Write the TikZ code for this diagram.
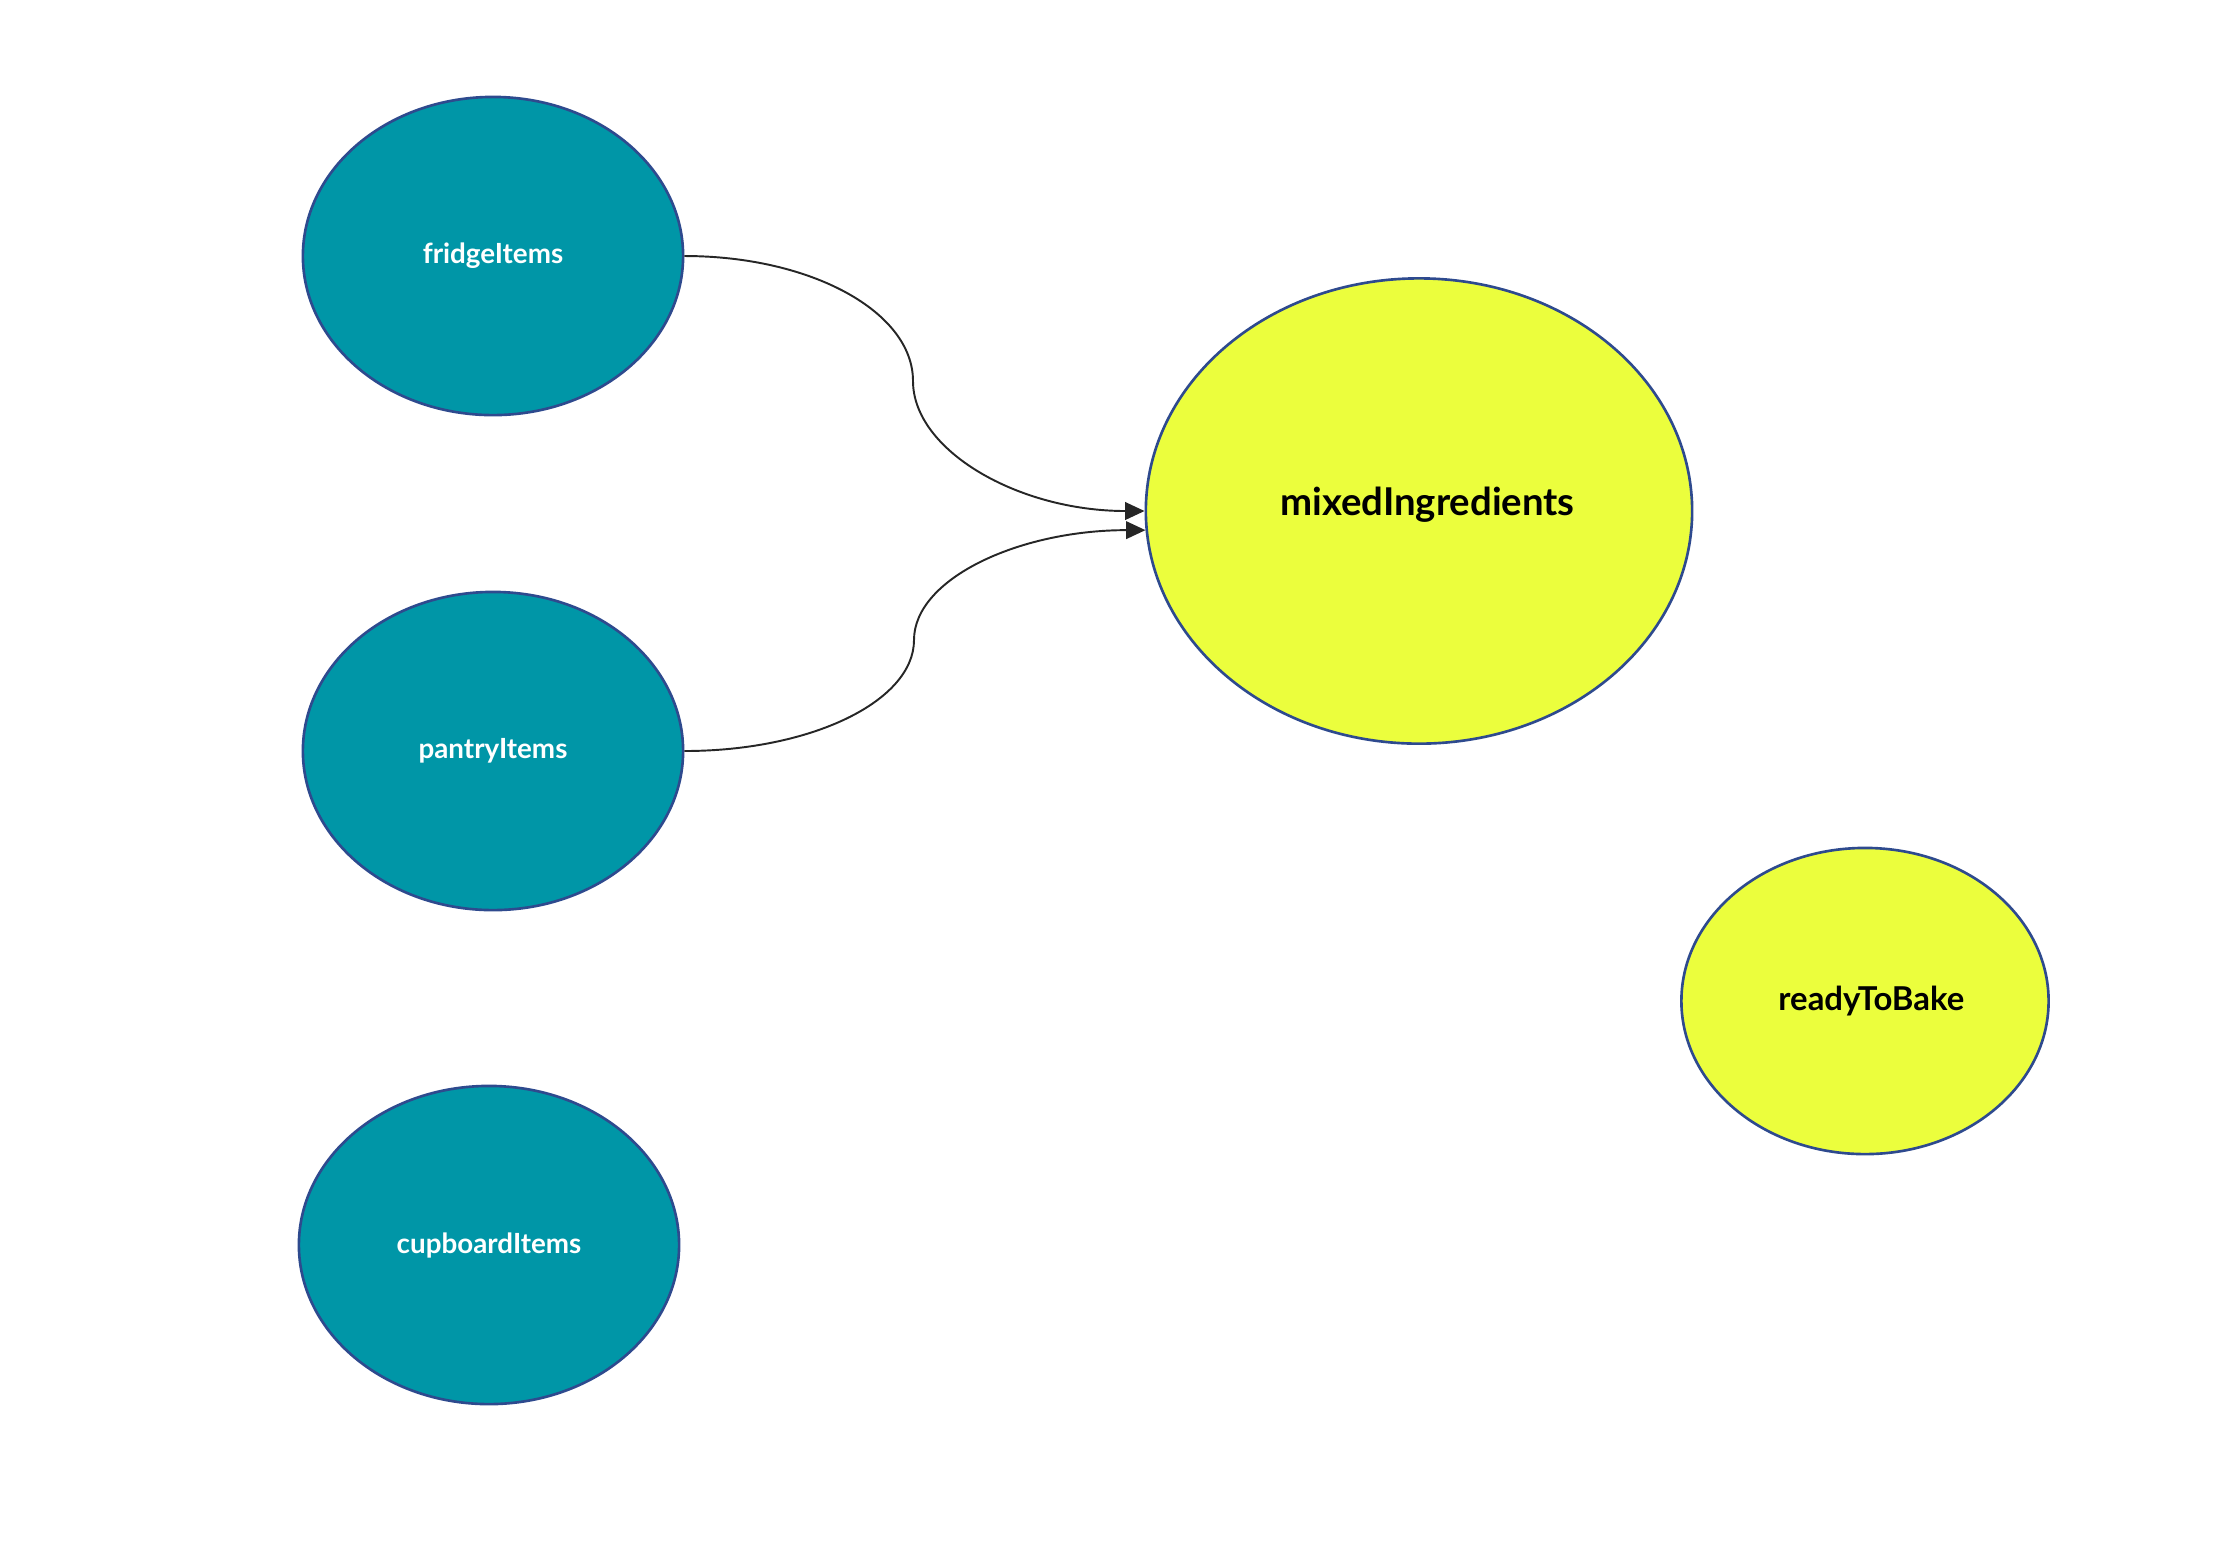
\documentclass[tikz,border=0pt]{standalone}
\usepackage{fontspec}
\setmainfont{Lato}
\usetikzlibrary{shapes.geometric,arrows.meta}
\definecolor{tealfill}{RGB}{0,150,167}
\definecolor{yellowfill}{RGB}{235,254,61}
\definecolor{rimblue}{RGB}{46,74,142}
\tikzset{
  blob/.style={ellipse, draw=rimblue, line width=0.75pt, inner sep=0pt, font=\bfseries},
  source/.style={blob, fill=tealfill, text=white, minimum width=3.8cm, minimum height=3.18cm, font=\bfseries\fontsize{7.9}{10}\selectfont},
  target/.style={blob, fill=yellowfill, text=black},
  flow/.style={draw=black!85, line width=0.55pt, -{Triangle[length=5.5pt,width=5pt]}}
}
\begin{document}
\begin{tikzpicture}[x=0.01cm,y=-0.01cm]
  \useasboundingbox (0,0) rectangle (2229,1562);
  % ingredient sources
  \node[source] (fridge)   at (493,256)  {fridgeItems};
  \node[source] (pantry)   at (493,751)  {pantryItems};
  \node[source] (cupboard) at (489,1245) {cupboardItems};
  % mixing stages
  \node[target, minimum width=5.46cm, minimum height=4.65cm,
        font=\bfseries\fontsize{10.9}{13}\selectfont] (mixed) at (1419,511)
        {\hspace*{4.8pt}\raisebox{5.3pt}{mixedIngredients}};
  \node[target, minimum width=3.67cm, minimum height=3.06cm,
        font=\bfseries\fontsize{9.35}{11}\selectfont] (bake) at (1865,1001)
        {\hspace*{3.6pt}readyToBake};
  % bends where each flow turns vertical
  \coordinate (bendA) at (913,381);
  \coordinate (bendB) at (914,640);
  \draw[flow] (fridge.east) .. controls +(127,0) and +(0,-69) .. (bendA)
                            .. controls +(0,69) and +(-127,0) .. (mixed.180.5);
  \draw[flow] (pantry.east) .. controls +(127,0) and +(0,61) .. (bendB)
                            .. controls +(0,-61) and +(-127,0) .. (mixed.184);
\end{tikzpicture}
\end{document}
